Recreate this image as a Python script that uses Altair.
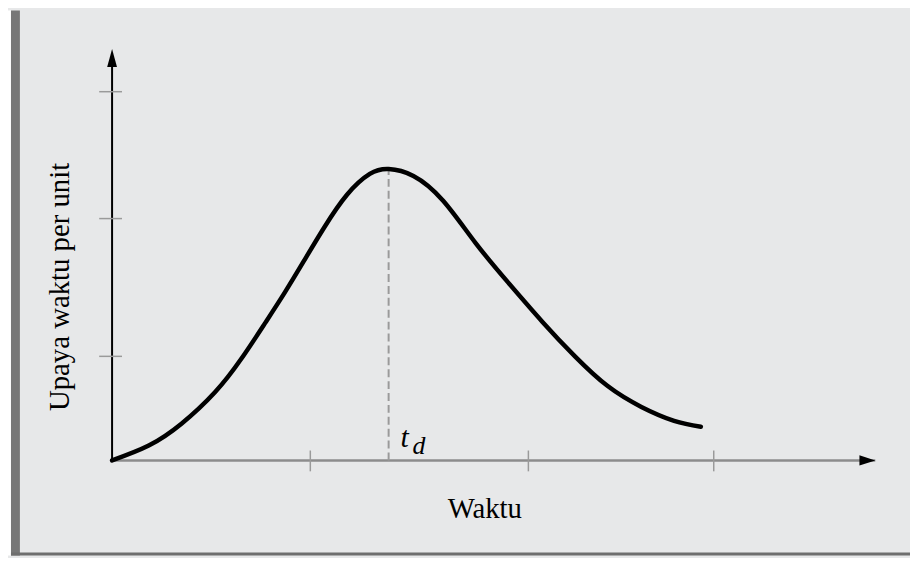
import altair as alt
import pandas as pd

# ---- data (arbitrary units; origin at the axes corner) ----
t_vals = [0.00, 0.37, 0.70, 1.04, 1.30, 1.54, 1.74, 1.94, 2.14, 2.37, 2.60, 2.79,
          3.04, 3.34, 3.67, 4.00, 4.34, 4.67, 5.00, 5.34, 5.67, 5.94]
effort_vals = [0.00, 0.15, 0.37, 0.69, 1.02, 1.38, 1.69, 2.02, 2.35, 2.68, 2.89, 2.94,
               2.87, 2.62, 2.19, 1.79, 1.40, 1.05, 0.75, 0.54, 0.40, 0.34]
x_tick_vals = [2.00, 4.20, 6.07]
y_tick_vals = [1.05, 2.44, 3.72]
peak_t = 2.79
peak_effort = 2.94
x_axis_end = 7.70
y_axis_end = 4.15
x_label = "Waktu"
y_label = "Upaya waktu per unit"
peak_main = "t"
peak_sub = "d"

X_DOM = [-1.05, 8.05]
Y_DOM = [-0.96, 4.54]
W, H = 910, 550

BG = "#e7e8e9"
GRAY = "#8c8c8c"
FONT = "Liberation Serif"


def X(field, **kw):
    return alt.X(field, type="quantitative", scale=alt.Scale(domain=X_DOM, nice=False, zero=False), axis=None, **kw)


def Y(field, **kw):
    return alt.Y(field, type="quantitative", scale=alt.Scale(domain=Y_DOM, nice=False, zero=False), axis=None, **kw)


curve_df = pd.DataFrame({"t": t_vals, "e": effort_vals})
xt_df = pd.DataFrame({"x": x_tick_vals, "lo": -0.11, "hi": 0.10})
yt_df = pd.DataFrame({"y": y_tick_vals, "lo": -0.13, "hi": 0.10})
xaxis_df = pd.DataFrame({"x": [0.0], "x2": [x_axis_end], "y": [0.0]})
yaxis_df = pd.DataFrame({"x": [0.0], "y": [0.0], "y2": [y_axis_end - 0.10]})
peak_df = pd.DataFrame({"x": [peak_t], "y": [0.0], "y2": [peak_effort]})
xarrow_df = pd.DataFrame({"x": [x_axis_end], "y": [0.0]})
yarrow_df = pd.DataFrame({"x": [0.0], "y": [y_axis_end]})
xlab_df = pd.DataFrame({"x": [3.76], "y": [-0.58], "label": [x_label]})
ylab_df = pd.DataFrame({"x": [-0.43], "y": [1.75], "label": [y_label]})
tmain_df = pd.DataFrame({"x": [peak_t + 0.12], "y": [0.14], "label": [peak_main]})
tsub_df = pd.DataFrame({"x": [peak_t + 0.24], "y": [0.06], "label": [peak_sub]})

# frame decoration (left dark bar, white edge, bottom line)
frame_white = alt.Chart(xaxis_df).mark_rect(color="white").encode(
    x=alt.value(0), x2=alt.value(3), y=alt.value(0), y2=alt.value(H))
frame_bar = alt.Chart(xaxis_df).mark_rect(color="#777777").encode(
    x=alt.value(3), x2=alt.value(12), y=alt.value(0), y2=alt.value(H))
frame_bottom = alt.Chart(xaxis_df).mark_rect(color="#6e6e6e").encode(
    x=alt.value(3), x2=alt.value(W), y=alt.value(H - 3), y2=alt.value(H))

x_axis = alt.Chart(xaxis_df).mark_rule(color=GRAY, strokeWidth=2.5).encode(
    x=X("x"), x2="x2", y=Y("y"))
y_axis = alt.Chart(yaxis_df).mark_rule(color="black", strokeWidth=2).encode(
    x=X("x"), y=Y("y"), y2="y2")
x_ticks = alt.Chart(xt_df).mark_rule(color="#9a9a9a", strokeWidth=1.5).encode(
    x=X("x"), y=Y("lo"), y2="hi")
y_ticks = alt.Chart(yt_df).mark_rule(color="#9a9a9a", strokeWidth=1.5).encode(
    y=Y("y"), x=X("lo"), x2="hi")
peak_line = alt.Chart(peak_df).mark_rule(color="#9a9a9a", strokeWidth=2, strokeDash=[8, 4]).encode(
    x=X("x"), y=Y("y"), y2="y2")
curve = alt.Chart(curve_df).mark_line(color="black", strokeWidth=4.5, interpolate="natural",
                                      strokeCap="round").encode(
    x=X("t"), y=Y("e"))
x_arrow = alt.Chart(xarrow_df).mark_point(
    shape="M0,0L-2,-0.65L-2,0.65Z", size=256, filled=True, color="black", opacity=1, strokeWidth=0
).encode(x=X("x"), y=Y("y"))
y_arrow = alt.Chart(yarrow_df).mark_point(
    shape="M0,0L0.55,2L-0.55,2Z", size=324, filled=True, color="black", opacity=1, strokeWidth=0
).encode(x=X("x"), y=Y("y"))

x_text = alt.Chart(xlab_df).mark_text(font=FONT, fontSize=29, color="black", align="center",
                                      baseline="alphabetic").encode(
    x=X("x"), y=Y("y"), text="label")
y_text = alt.Chart(ylab_df).mark_text(font=FONT, fontSize=29, color="black", align="center",
                                      baseline="alphabetic", angle=270).encode(
    x=X("x"), y=Y("y"), text="label")
t_text = alt.Chart(tmain_df).mark_text(font=FONT, fontSize=30, fontStyle="italic", color="black",
                                       align="left", baseline="alphabetic").encode(
    x=X("x"), y=Y("y"), text="label")
d_text = alt.Chart(tsub_df).mark_text(font=FONT, fontSize=26, fontStyle="italic", color="black",
                                      align="left", baseline="alphabetic").encode(
    x=X("x"), y=Y("y"), text="label")

chart = alt.layer(
    frame_white, frame_bar, frame_bottom,
    x_axis, y_axis, x_ticks, y_ticks, peak_line, curve, x_arrow, y_arrow,
    x_text, y_text, t_text, d_text,
).properties(
    width=W, height=H, padding=0, background=BG,
    autosize=alt.AutoSizeParams(type="none"),
).configure_view(stroke=None)

chart.save("out.html", embed_options={"renderer": "svg", "actions": False})
